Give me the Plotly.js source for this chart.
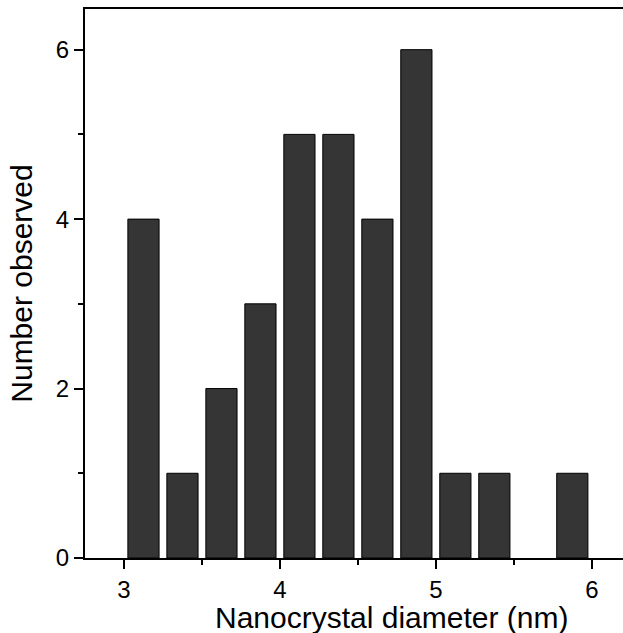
<!DOCTYPE html>
<html>
<head>
<meta charset="utf-8">
<script src="https://cdn.plot.ly/plotly-3.0.1.min.js"></script>
<style>html,body{margin:0;padding:0;background:#fff;overflow:hidden;}</style>
</head>
<body>
<div id="chart" style="width:623px;height:633px;"></div>
<script>
// Histogram bin centres (nm) and counts
const binCenters = [3.125, 3.375, 3.625, 3.875, 4.125, 4.375, 4.625, 4.875, 5.125, 5.375, 5.625, 5.875];
const counts     = [4, 1, 2, 3, 5, 5, 4, 6, 1, 1, 0, 1];
const xTickVals  = [3, 4, 5, 6];
const yTickVals  = [0, 2, 4, 6];
const xTitle = 'Nanocrystal diameter (nm)';
const yTitle = 'Number observed';

const font = 'Liberation Sans, Arial, Helvetica, sans-serif';

const trace = {
  type: 'bar',
  x: binCenters,
  y: counts,
  marker: {color: '#353535', line: {color: '#000000', width: counts.map(c => c > 0 ? 1 : 0)}},
  hoverinfo: 'x+y'
};

const layout = {
  width: 623, height: 633,
  margin: {l: 85, r: 0, t: 9, b: 75},
  paper_bgcolor: '#ffffff', plot_bgcolor: '#ffffff',
  bargap: 0.2,
  showlegend: false,
  font: {family: font, color: '#000'},
  xaxis: {
    range: [2.75, 6.2],
    tickvals: xTickVals,
    ticktext: xTickVals.map(String),
    ticks: 'outside', ticklen: 9, tickwidth: 2, tickcolor: '#000',
    minor: {dtick: 0.5, tick0: 0, ticks: 'outside', ticklen: 5, tickwidth: 2, tickcolor: '#000', showgrid: false},
    showline: true, linewidth: 2, linecolor: '#000', mirror: true,
    showgrid: false, zeroline: false,
    tickfont: {family: font, size: 24, color: '#000'}
  },
  yaxis: {
    range: [0, 6.48],
    tickvals: yTickVals,
    ticktext: yTickVals.map(String),
    ticks: 'outside', ticklen: 9, tickwidth: 2, tickcolor: '#000',
    minor: {dtick: 1, tick0: 0, ticks: 'outside', ticklen: 5, tickwidth: 2, tickcolor: '#000', showgrid: false},
    showline: true, linewidth: 2, linecolor: '#000',
    showgrid: false, zeroline: false,
    tickfont: {family: font, size: 24, color: '#000'},
    title: {text: yTitle, font: {family: font, size: 30, color: '#000'}, standoff: 14}
  },
  annotations: [{
    text: xTitle, xref: 'paper', yref: 'paper',
    x: 0.569, y: -0.075, xanchor: 'center', yanchor: 'top',
    showarrow: false, font: {family: font, size: 30, color: '#000'}
  }]
};

Plotly.newPlot('chart', [trace], layout, {staticPlot: true, displayModeBar: false});
</script>
</body>
</html>
